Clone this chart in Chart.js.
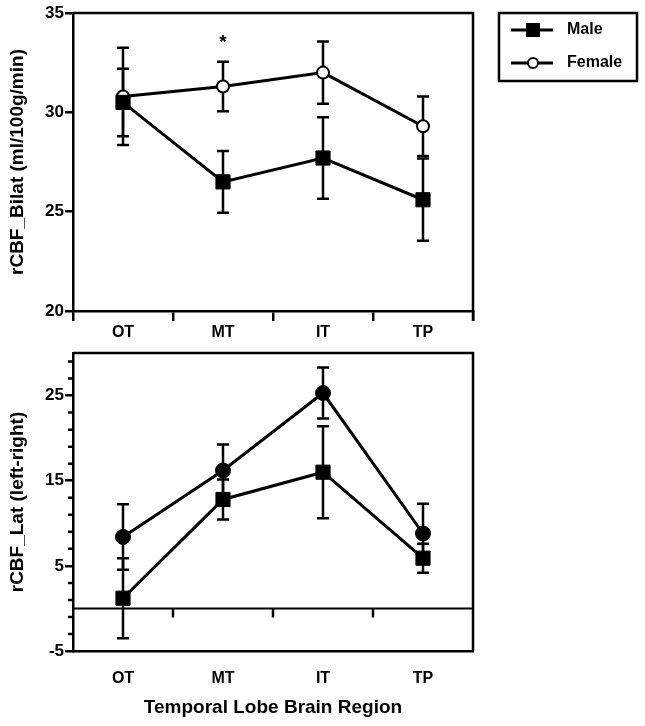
<!DOCTYPE html>
<html>
<head>
<meta charset="utf-8">
<script src="https://cdn.jsdelivr.net/npm/chart.js@4"></script>
<style>
  body { margin: 0; background: #fff; }
  #wrap { position: relative; width: 645px; height: 726px; }
  #bilatChart { position: absolute; left: 0; top: 0; }
  #latChart { position: absolute; left: 0; top: 340px; }
</style>
</head>
<body>
<div id="wrap">
  <canvas id="bilatChart" width="645" height="345"></canvas>
  <canvas id="latChart" width="645" height="386"></canvas>
</div>
<script>
// data
const regions = ["OT", "MT", "IT", "TP"];

const bilatMale = [30.5, 26.5, 27.7, 25.6];
const bilatMaleErr = [1.7, 1.55, 2.05, 2.07];
const bilatFemale = [30.8, 31.3, 32.0, 29.3];
const bilatFemaleErr = [2.45, 1.25, 1.57, 1.5];

const latMale = [1.2, 12.8, 16.0, 5.9];
const latMaleErr = [4.7, 2.35, 5.4, 1.7];
const latFemale = [8.4, 16.2, 25.3, 8.8];
const latFemaleErr = [3.85, 3.05, 3.0, 3.5];

const bilatTicks = [20, 25, 30, 35];
const latTicks = [-5, 5, 15, 25];
const latMinorTicks = [-3, -1, 1, 3, 7, 9, 11, 13, 17, 19, 21, 23, 27, 29];

const FONT = "'Liberation Sans', Arial, Helvetica, sans-serif";
Chart.defaults.font.family = FONT;
Chart.defaults.font.weight = "bold";
Chart.defaults.color = "#000";

// error bars drawn under the markers
const errorBars = {
  id: "errorBars",
  beforeDatasetsDraw(chart) {
    const c = chart.ctx;
    const xs = chart.scales.x, ys = chart.scales.y;
    c.save();
    c.strokeStyle = "#000";
    c.lineWidth = 2.5;
    chart.data.datasets.forEach(ds => {
      ds.data.forEach((v, i) => {
        const e = ds.errors[i];
        const x = xs.getPixelForValue(i);
        const y1 = ys.getPixelForValue(v + e);
        const y2 = ys.getPixelForValue(v - e);
        c.beginPath();
        c.moveTo(x, y1); c.lineTo(x, y2);
        c.moveTo(x - 6, y1); c.lineTo(x + 6, y1);
        c.moveTo(x - 6, y2); c.lineTo(x + 6, y2);
        c.stroke();
      });
    });
    c.restore();
  }
};

// top and right sides of the box
function frame(extra) {
  return {
    id: "frame",
    afterDraw(chart) {
      const a = chart.chartArea, c = chart.ctx;
      c.save();
      c.strokeStyle = "#000";
      c.lineWidth = 2.5;
      c.beginPath();
      c.moveTo(a.left, a.top);
      c.lineTo(a.right, a.top);
      c.lineTo(a.right, a.bottom + extra);
      c.stroke();
      c.restore();
    }
  };
}

const extrasTop = {
  id: "extrasTop",
  afterDraw(chart) {
    const c = chart.ctx;
    const xs = chart.scales.x, ys = chart.scales.y;
    c.save();
    // significance star over MT
    c.font = "bold 19px " + FONT;
    c.textAlign = "center";
    c.textBaseline = "middle";
    c.fillText("*", xs.getPixelForValue(1), ys.getPixelForValue(33.5));

    // legend box
    c.strokeStyle = "#000";
    c.lineWidth = 2.5;
    c.strokeRect(499, 13, 138, 68);
    c.lineWidth = 3;
    c.beginPath();
    c.moveTo(511, 30); c.lineTo(553, 30);
    c.moveTo(511, 63); c.lineTo(553, 63);
    c.stroke();
    c.fillStyle = "#000";
    c.fillRect(526, 23, 14, 14);
    c.beginPath();
    c.arc(533, 63, 5, 0, Math.PI * 2);
    c.fillStyle = "#fff";
    c.fill();
    c.lineWidth = 2;
    c.stroke();
    c.fillStyle = "#000";
    c.font = "bold 16px " + FONT;
    c.textAlign = "left";
    c.fillText("Male", 567, 30);
    c.fillText("Female", 567, 63);
    c.restore();
  }
};

const extrasBottom = {
  id: "extrasBottom",
  afterDraw(chart) {
    const c = chart.ctx, a = chart.chartArea;
    const xs = chart.scales.x, ys = chart.scales.y;
    c.save();
    c.strokeStyle = "#000";
    // zero line with category ticks
    const y0 = ys.getPixelForValue(0);
    c.lineWidth = 2;
    c.beginPath();
    c.moveTo(a.left, y0); c.lineTo(a.right, y0);
    c.stroke();
    c.lineWidth = 2.5;
    c.beginPath();
    for (let i = 1; i < regions.length; i++) {
      const x = xs.getPixelForValue(i - 0.5);
      c.moveTo(x, y0); c.lineTo(x, y0 + 9);
    }
    // minor ticks on y
    latMinorTicks.forEach(v => {
      const y = ys.getPixelForValue(v);
      c.moveTo(a.left - 5, y); c.lineTo(a.left, y);
    });
    c.stroke();
    c.restore();
  }
};

function yScale(min, max, tickVals, title) {
  return {
    min: min,
    max: max,
    afterFit(s) { s.width = 73; },
    afterBuildTicks(s) { s.ticks = tickVals.map(v => ({ value: v })); },
    grid: { drawOnChartArea: false, color: "#000", lineWidth: 2.5, tickLength: 8 },
    border: { display: true, color: "#000", width: 2.5 },
    ticks: { font: { size: 17, weight: "bold" }, padding: 1 },
    title: { display: true, text: title, font: { size: 19, weight: "bold" }, padding: { top: 6 } }
  };
}

let ctx = document.getElementById("bilatChart").getContext("2d");
let bilatChart = new Chart(ctx, {
  type: "line",
  data: {
    labels: regions,
    datasets: [
      {
        label: "Male",
        data: bilatMale,
        errors: bilatMaleErr,
        borderColor: "#000",
        borderWidth: 3,
        pointStyle: "rect",
        pointRadius: 10,
        pointBorderWidth: 1,
        pointBackgroundColor: "#000",
        pointBorderColor: "#000",
      },
      {
        label: "Female",
        data: bilatFemale,
        errors: bilatFemaleErr,
        borderColor: "#000",
        borderWidth: 3,
        pointStyle: "circle",
        pointRadius: 6,
        pointBorderWidth: 2,
        pointBackgroundColor: "#fff",
        pointBorderColor: "#000",
      },
    ],
  },
  options: {
    responsive: false,
    animation: false,
    layout: { padding: { top: 13, right: 172, left: 0, bottom: 0 } },
    plugins: { legend: { display: false }, tooltip: { enabled: false } },
    scales: {
      x: {
        afterFit(s) { s.height = 34; },
        offset: true,
        grid: { offset: true, drawOnChartArea: false, color: "#000", lineWidth: 2.5, tickLength: 10 },
        border: { display: true, color: "#000", width: 2.5 },
        ticks: { font: { size: 16, weight: "bold" }, padding: 2 },
      },
      y: yScale(20, 35, bilatTicks, "rCBF_Bilat (ml/100g/min)"),
    },
  },
  plugins: [errorBars, frame(10), extrasTop],
});

let ctx2 = document.getElementById("latChart").getContext("2d");
let latChart = new Chart(ctx2, {
  type: "line",
  data: {
    labels: regions,
    datasets: [
      {
        label: "Male",
        data: latMale,
        errors: latMaleErr,
        borderColor: "#000",
        borderWidth: 3,
        pointStyle: "rect",
        pointRadius: 10,
        pointBorderWidth: 1,
        pointBackgroundColor: "#000",
        pointBorderColor: "#000",
      },
      {
        label: "Female",
        data: latFemale,
        errors: latFemaleErr,
        borderColor: "#000",
        borderWidth: 3,
        pointStyle: "circle",
        pointRadius: 7.5,
        pointBorderWidth: 1,
        pointBackgroundColor: "#000",
        pointBorderColor: "#000",
      },
    ],
  },
  options: {
    responsive: false,
    animation: false,
    layout: { padding: { top: 13, right: 172, left: 0, bottom: 0 } },
    plugins: { legend: { display: false }, tooltip: { enabled: false } },
    scales: {
      x: {
        afterFit(s) { s.height = 75; },
        offset: true,
        grid: { display: false },
        border: { display: true, color: "#000", width: 2.5 },
        ticks: { font: { size: 16, weight: "bold" }, padding: 10 },
        title: { display: true, text: "Temporal Lobe Brain Region", font: { size: 19, weight: "bold" }, padding: { bottom: 7 } },
      },
      y: yScale(-5, 30, latTicks, "rCBF_Lat (left-right)"),
    },
  },
  plugins: [errorBars, frame(0), extrasBottom],
});
</script>
</body>
</html>
